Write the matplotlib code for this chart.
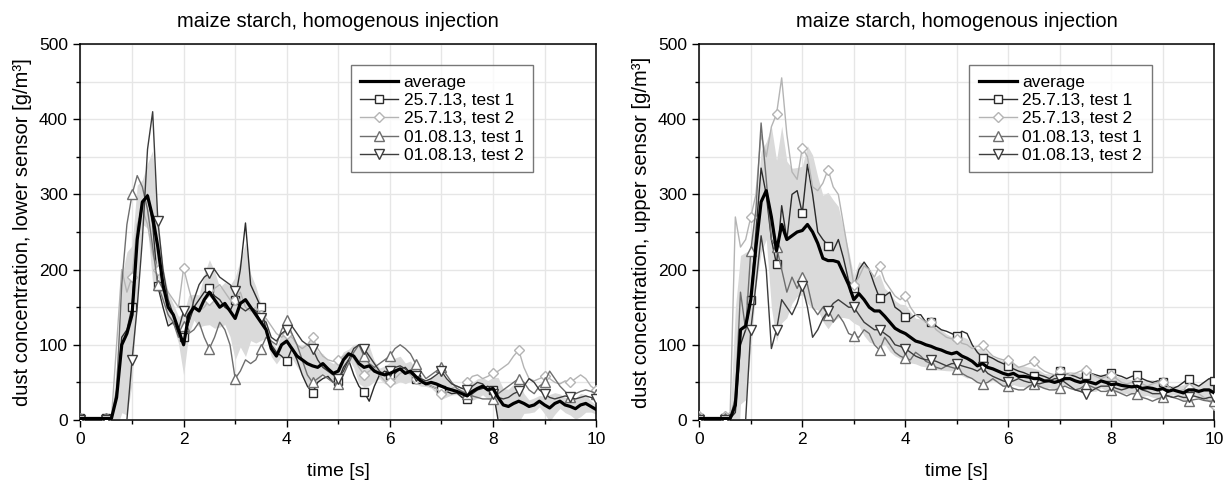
import numpy as np
import matplotlib
matplotlib.use("Agg")
import matplotlib.pyplot as plt
from matplotlib.ticker import MultipleLocator

plt.rcParams['font.family'] = ['Liberation Sans', 'DejaVu Sans']

# time axis, 0.1 s steps
time = np.round(np.arange(0, 101) * 0.1, 1)

labels = ['average', '25.7.13, test 1', '25.7.13, test 2',
          '01.08.13, test 1', '01.08.13, test 2']

# ---------------- lower sensor ----------------
low_avg = [2, 2, 2, 2, 2, 2, 2, 30, 100, 115, 140, 240, 290, 298, 270, 230, 180, 150, 140, 120,
           100, 140, 150, 145, 160, 170, 160, 150, 155, 145, 135, 155, 160, 150, 140, 130, 120, 95, 85, 100,
           105, 95, 85, 80, 75, 72, 70, 75, 68, 62, 65, 80, 88, 85, 75, 70, 72, 65, 62, 60,
           62, 65, 68, 62, 65, 58, 52, 48, 50, 48, 45, 42, 40, 38, 35, 32, 38, 42, 45, 40,
           42, 30, 20, 18, 22, 25, 22, 18, 20, 25, 20, 16, 22, 25, 20, 18, 15, 20, 22, 18, 14]
low_t1 = [2, 2, 2, 2, 2, 2, 2, 30, 110, 120, 150, 250, 290, 300, 260, 178, 150, 125, 130, 115,
          110, 130, 150, 160, 170, 175, 165, 160, 150, 145, 160, 200, 262, 180, 165, 150, 120, 100, 90, 85,
          78, 95, 80, 60, 45, 36, 50, 55, 58, 50, 52, 70, 80, 60, 45, 37, 25, 45, 60, 65,
          60, 62, 68, 70, 62, 55, 50, 48, 45, 42, 40, 38, 35, 36, 30, 28, 35, 40, 42, 45,
          40, 0] + [np.nan] * 19
low_t2 = [3, 3, 2, 2, 2, 3, 2, 100, 200, 170, 190, 260, 280, 260, 220, 200, 185, 170, 160, 150,
          202, 175, 150, 145, 150, 160, 175, 180, 170, 160, 160, 170, 150, 145, 150, 140, 135, 125, 115, 110,
          115, 110, 100, 95, 100, 110, 95, 85, 80, 78, 80, 85, 90, 82, 70, 60, 65, 70, 60, 52,
          50, 55, 62, 65, 60, 55, 50, 48, 45, 42, 35, 38, 42, 45, 42, 50, 58, 60, 55, 58,
          62, 65, 70, 75, 85, 93, 70, 55, 52, 55, 58, 55, 50, 48, 52, 50, 55, 60, 55, 45, 40]
low_t3 = [2, 2, 2, 2, 2, 2, 2, 40, 180, 260, 300, 325, 310, 280, 230, 180, 160, 140, 130, 110,
          125, 115, 120, 130, 110, 95, 110, 130, 120, 100, 55, 65, 80, 75, 80, 95, 110, 105, 100, 120,
          133, 115, 100, 80, 60, 50, 55, 60, 55, 50, 48, 60, 75, 90, 100, 85, 75, 70, 75, 80,
          85, 95, 100, 95, 88, 75, 65, 55, 60, 65, 70, 60, 50, 42, 38, 35, 32, 30, 28, 28,
          28, 35, 40, 45, 50, 55, 50, 40, 35, 45, 50, 65, 55, 45, 38, 30, 35, 38, 40, 38, 35]
low_t4 = [0, 0, 0, 0, 0, 0, 0, 0, 0, 0, 80, 150, 240, 360, 410, 265, 200, 160, 140, 120,
          145, 130, 160, 180, 190, 195, 200, 190, 185, 180, 172, 150, 145, 150, 145, 135, 130, 110, 105, 115,
          120, 125, 115, 105, 100, 95, 80, 70, 65, 60, 55, 65, 80, 95, 100, 95, 85, 75, 65, 60,
          65, 70, 72, 68, 62, 58, 55, 52, 55, 60, 65, 55, 48, 45, 42, 40, 45, 50, 48, 40,
          35, 30, 28, 30, 35, 38, 45, 55, 50, 40, 35, 30, 28, 30, 32, 30, 28, 30, 32, 30, 28]

# ---------------- upper sensor ----------------
up_avg = [2, 2, 2, 2, 2, 2, 2, 20, 120, 125, 160, 230, 290, 305, 270, 225, 260, 240, 245, 250,
          252, 260, 250, 235, 215, 212, 212, 210, 195, 180, 160, 168, 160, 150, 145, 145, 138, 130, 122, 118,
          115, 110, 105, 103, 100, 98, 95, 93, 90, 88, 90, 85, 82, 78, 72, 75, 70, 68, 65, 62,
          60, 62, 58, 58, 57, 55, 55, 52, 52, 50, 52, 55, 55, 52, 50, 52, 50, 48, 52, 50,
          47, 48, 46, 45, 44, 45, 42, 43, 42, 40, 42, 38, 40, 38, 36, 40, 40, 38, 40, 40, 36]
up_t1 = [2, 2, 2, 2, 2, 2, 2, 10, 100, 120, 160, 250, 335, 300, 240, 207, 285, 240, 300, 305,
         275, 340, 300, 250, 240, 232, 225, 240, 215, 185, 175, 200, 210, 200, 180, 162, 165, 170, 150, 145,
         137, 135, 140, 140, 130, 130, 125, 120, 118, 115, 112, 118, 115, 100, 90, 83, 85, 82, 78, 75,
         72, 68, 65, 63, 60, 58, 60, 58, 55, 60, 65, 62, 60, 58, 55, 60, 62, 60, 58, 60,
         62, 60, 58, 55, 58, 60, 55, 52, 50, 52, 50, 45, 42, 45, 50, 55, 48, 45, 50, 55, 52]
up_t2 = [5, 2, 2, 2, 3, 5, 10, 270, 230, 240, 270, 300, 380, 350, 390, 407, 455, 380, 330, 320,
         362, 350, 310, 305, 315, 333, 310, 300, 260, 220, 180, 190, 205, 200, 190, 205, 185, 175, 165, 160,
         165, 150, 140, 135, 130, 130, 120, 115, 110, 108, 108, 102, 100, 95, 98, 100, 92, 85, 82, 80,
         80, 75, 70, 72, 75, 78, 70, 65, 62, 60, 65, 62, 60, 62, 65, 67, 62, 58, 55, 58,
         60, 55, 50, 48, 50, 50, 48, 45, 48, 50, 50, 45, 40, 38, 40, 42, 40, 35, 30, 25, 20]
up_t3 = [2, 2, 2, 2, 2, 2, 2, 30, 170, 120, 225, 280, 395, 320, 240, 230, 200, 170, 190, 175,
         190, 180, 150, 140, 150, 140, 130, 140, 130, 115, 112, 110, 120, 115, 100, 93, 110, 100, 90, 85,
         82, 80, 90, 85, 78, 75, 70, 68, 72, 70, 68, 62, 58, 55, 50, 48, 50, 55, 50, 45,
         45, 42, 40, 40, 45, 48, 45, 42, 40, 40, 42, 45, 42, 40, 42, 47, 45, 42, 38, 38,
         40, 38, 35, 32, 35, 35, 30, 28, 25, 28, 30, 32, 30, 28, 25, 25, 27, 28, 26, 25, 25]
up_t4 = [0, 0, 0, 0, 0, 0, 0, 0, 0, 0, 120, 180, 245, 200, 95, 120, 160, 150, 140, 155,
         178, 150, 110, 120, 135, 145, 155, 160, 155, 150, 150, 140, 130, 125, 120, 120, 115, 110, 100, 98,
         95, 90, 85, 82, 80, 80, 78, 75, 72, 75, 75, 72, 70, 68, 65, 70, 62, 58, 55, 52,
         50, 52, 55, 52, 50, 50, 48, 50, 52, 55, 55, 50, 45, 40, 38, 35, 38, 42, 45, 45,
         45, 42, 40, 42, 45, 45, 40, 38, 35, 35, 35, 32, 30, 32, 30, 30, 32, 30, 28, 30, 30]

panels = [
    ('dust concentration, lower sensor [g/m³]', low_avg, [low_t1, low_t2, low_t3, low_t4]),
    ('dust concentration, upper sensor [g/m³]', up_avg, [up_t1, up_t2, up_t3, up_t4]),
]

test_styles = [
    dict(color='#2b2b2b', marker='s', ms=6),
    dict(color='#b4b4b4', marker='D', ms=5.5),
    dict(color='#6e6e6e', marker='^', ms=7),
    dict(color='#3c3c3c', marker='v', ms=7),
]

fig = plt.figure(figsize=(12.29, 4.87), dpi=100)
positions = [[0.0655, 0.1376, 0.4195, 0.7720], [0.5690, 0.1376, 0.4190, 0.7720]]

for pos, (ylabel, avg, tests) in zip(positions, panels):
    ax = fig.add_axes(pos)
    arr = np.array(tests, dtype=float)
    sd = np.nanstd(arr, axis=0, ddof=1)
    avg = np.array(avg, dtype=float)
    ax.fill_between(time, avg - sd, avg + sd, color='#dadada', lw=0, zorder=1)

    handles = []
    for vals, st in zip(tests, test_styles):
        ln, = ax.plot(time, vals, color=st['color'], lw=1.0, marker=st['marker'],
                      ms=st['ms'], mfc='white', mec=st['color'], mew=1.0,
                      markevery=5, zorder=3)
        handles.append(ln)
    la, = ax.plot(time, avg, color='black', lw=2.3, zorder=4)
    handles.insert(0, la)

    ax.set_xlim(0, 10)
    ax.set_ylim(0, 500)
    ax.xaxis.set_major_locator(MultipleLocator(2))
    ax.xaxis.set_minor_locator(MultipleLocator(1))
    ax.yaxis.set_major_locator(MultipleLocator(100))
    ax.yaxis.set_minor_locator(MultipleLocator(50))
    ax.grid(True, which='both', color='#e6e6e6', lw=1.0, zorder=0)
    ax.set_axisbelow(True)
    ax.tick_params(which='major', direction='out', length=5, width=1, labelsize=12.5, pad=4)
    ax.tick_params(which='minor', direction='out', length=3, width=1)
    for sp in ax.spines.values():
        sp.set_linewidth(1.1)
    ax.set_xlabel('time [s]', fontsize=14, labelpad=11)
    ax.set_ylabel(ylabel, fontsize=14.5, labelpad=5)
    ax.set_title('maize starch, homogenous injection', fontsize=14.5, pad=12)

    leg = ax.legend(handles, labels, loc='upper left', bbox_to_anchor=(0.524, 0.944),
                    fontsize=12.5, frameon=True, fancybox=False, handlelength=2.2,
                    handletextpad=0.3, labelspacing=0.18, borderpad=0.55,
                    borderaxespad=0)
    leg.get_frame().set_edgecolor('#555555')
    leg.get_frame().set_linewidth(1.0)

fig.savefig('out.png', dpi=100)
